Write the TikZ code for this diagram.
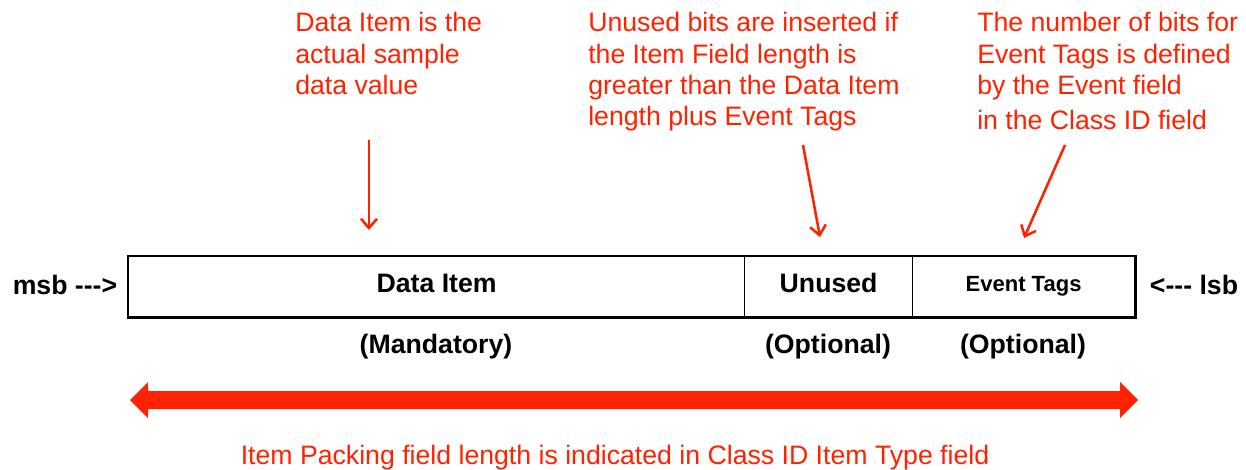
\documentclass[tikz,border=0pt]{standalone}
\usepackage{fontspec}
\setmainfont{Liberation Sans}[Ligatures=TeXOff]
\usetikzlibrary{arrows.meta}
\definecolor{annot}{RGB}{255,34,0}

\begin{document}
\begin{tikzpicture}[x=0.75pt,y=-0.75pt,
  note/.style={text=annot, font=\fontsize{20}{23.6}\selectfont, align=left,
               anchor=north west, inner sep=0pt},
  lbl/.style={font=\bfseries\fontsize{20}{24}\selectfont, inner sep=0pt},
  small/.style={font=\bfseries\fontsize{16.5}{20}\selectfont, inner sep=0pt},
  cell/.style={draw, line width=0.9pt, minimum height=45pt, inner sep=0pt,
               anchor=north west, text height=11pt, text depth=2pt},
  callout/.style={draw=annot, line width=1.9pt,
                  -{Straight Barb[length=7pt,width=12pt]}}
]
\useasboundingbox (0,0) rectangle (1246,469);

% packed field: three cells
\node[cell, lbl, minimum width=462pt] (data) at (128,256) {Data Item};
\node[cell, lbl, minimum width=126pt] (unused) at (744,256) {Unused};
\node[cell, small, minimum width=166.5pt, text height=10pt, text depth=3pt] (tags) at (912,256) {Event Tags};
\draw[line width=2pt] (data.north west) rectangle (tags.south east);

% bit order markers
\node[lbl] (msb) at (65,285) {msb --->};
\node[lbl] (lsb) at (1194,285) {<--- lsb};

% presence of each field
\node[lbl] (mand) at (436,347) {(Mandatory)};
\node[lbl] (opt1) at (828,347) {(Optional)};
\node[lbl] (opt2) at (1023,347) {(Optional)};

% explanatory notes
\node[note] (n1) at (295,12) {Data Item is the\\actual sample\\data value};
\node[note] (n2) at (588,12) {Unused bits are inserted if\\the Item Field length is\\greater than the Data Item\\length plus Event Tags};
\node[note] (n3) at (977,12) {The number of bits for\\Event Tags is defined\\by the Event field\\[3pt]in the Class ID field};

\coordinate (c1s) at (369,140); \coordinate (c1e) at (369,230);
\coordinate (c2s) at (803,145); \coordinate (c2e) at (820,237);
\coordinate (c3s) at (1065,145); \coordinate (c3e) at (1024,238);
\draw[callout] (c1s) -- (c1e);
\draw[callout] (c2s) -- (c2e);
\draw[callout] (c3s) -- (c3e);

% overall length arrow
\coordinate (L) at (130,400);
\coordinate (R) at (1138,400);
\fill[annot] (L) -- ++(18,-18) -- ++(0,9) -- ++(972,0) -- ++(0,-9) -- (R)
  -- ++(-18,18) -- ++(0,-9) -- ++(-972,0) -- ++(0,9) -- cycle;

\node[note, anchor=base] (len) at (615,464)
  {Item Packing field length is indicated in Class ID Item Type field};
\end{tikzpicture}
\end{document}
